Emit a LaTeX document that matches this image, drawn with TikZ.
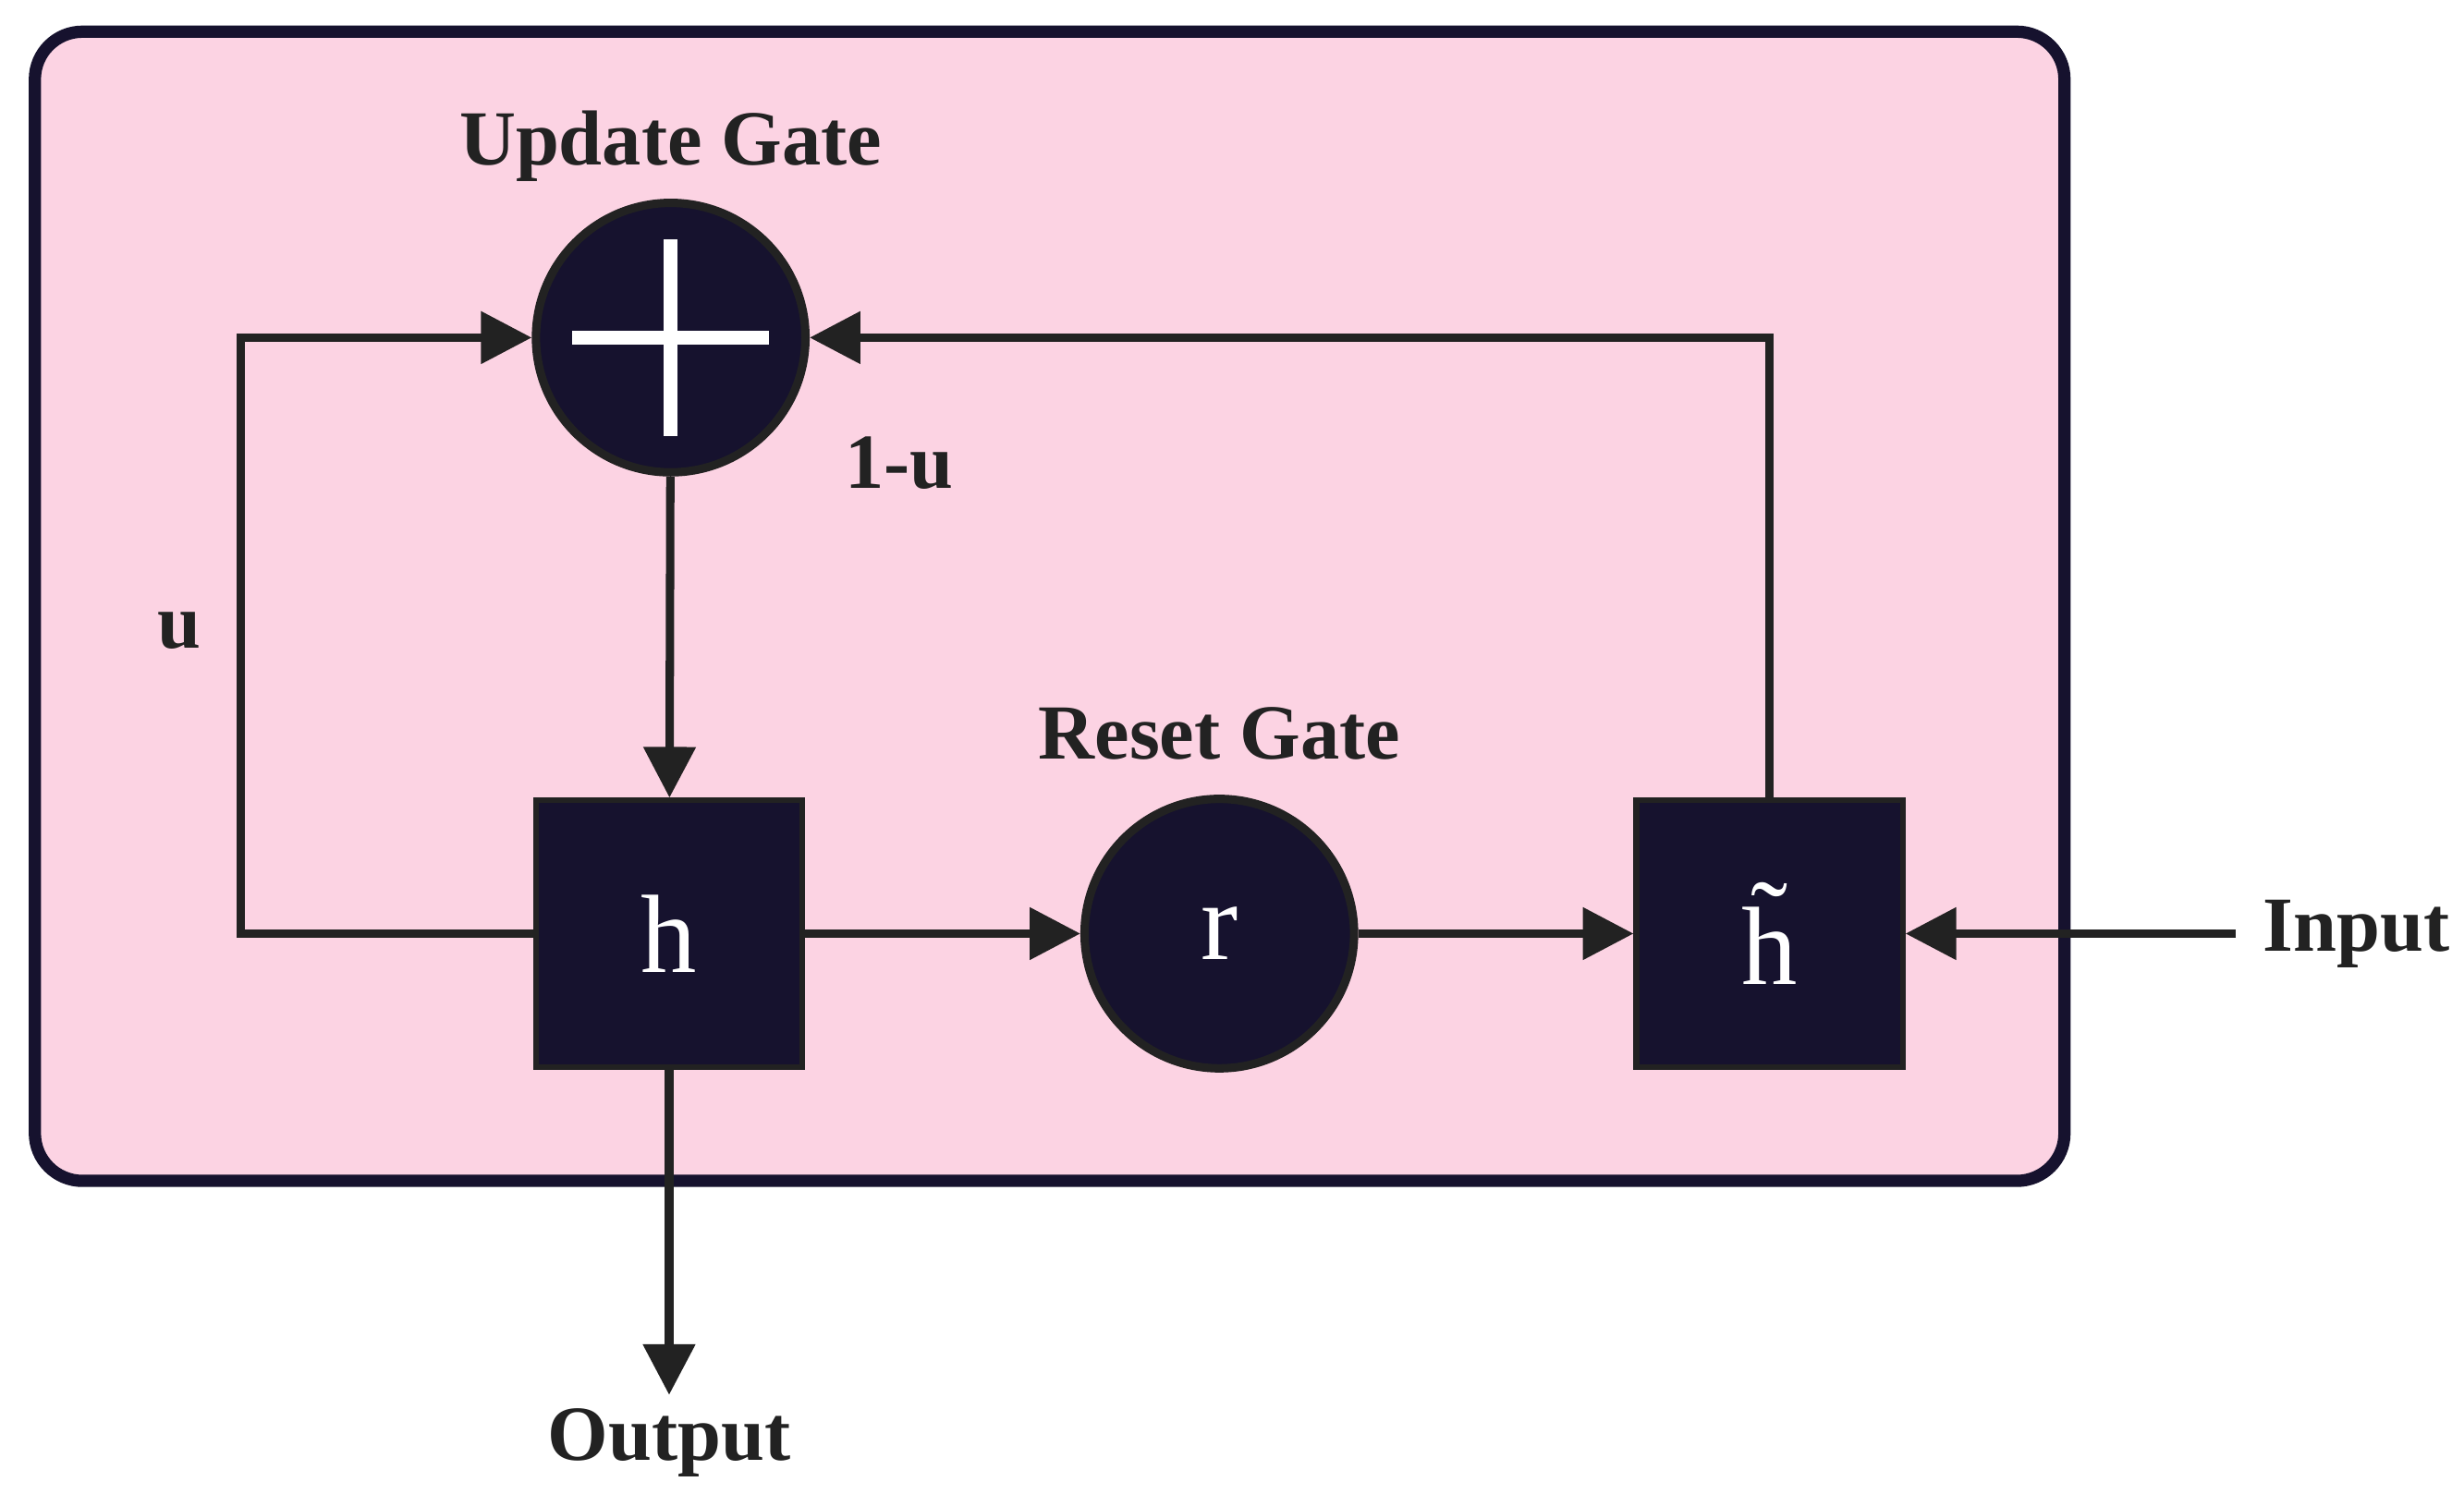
\documentclass[tikz,border=0pt]{standalone}
\usepackage{fontspec}
\setmainfont{Liberation Serif}
\usetikzlibrary{arrows.meta}
\definecolor{bgpink}{HTML}{FCD3E3}
\definecolor{navy}{HTML}{16122E}
\definecolor{ink}{HTML}{222222}
\begin{document}
\begin{tikzpicture}[
  conn/.style={draw=ink,line width=1.5pt,-{Triangle[length=0.32cm,width=0.32cm]}},
  gate/.style={circle,fill=navy,draw=ink,line width=1.5pt,minimum size=1.7cm,inner sep=0pt,text=white,font=\fontsize{20}{20}\selectfont},
  cell/.style={rectangle,fill=navy,draw=ink,line width=1pt,minimum size=1.68cm,inner sep=0pt,text=white,font=\fontsize{20}{20}\selectfont},
  lbl/.style={font=\fontsize{14}{14}\selectfont\bfseries,text=ink}
]
\useasboundingbox (0,0) rectangle (15.54,-9.42);
\fill[white] (0,0) rectangle (15.54,-9.42);
\draw[fill=bgpink,draw=navy,line width=2.2pt,rounded corners=0.3cm] (0.22,-0.2) rectangle (13.02,-7.45);

\node[gate] (ug) at (4.23,-2.13) {};
\draw[white,line width=2.5pt] (ug.center) ++(-0.62,0) -- ++(1.24,0);
\draw[white,line width=2.5pt] (ug.center) ++(0,-0.62) -- ++(0,1.24);
\node[lbl] (ugl) at (4.23,-0.92) {Update Gate};

\node[cell] (h) at (4.22,-5.89) {h};
\node[gate] (r) at (7.69,-5.89) {r};
\node[lbl] (rl) at (7.69,-4.63) {Reset Gate};
\node[cell] (ht) at (11.16,-5.89) {\~{h}};

\node[lbl,anchor=west] (in) at (14.15,-5.89) {Input};
\coordinate (ins) at (14.1,-5.89);
\node[lbl] (out) at (4.22,-9.1) {Output};
\coordinate (oute) at (4.22,-8.8);

\node[lbl] (u) at (1.13,-3.98) {u};
\node[lbl] (omu) at (5.67,-2.92) {1-u};

\draw[conn] (ug) -- (h);
\draw[conn] (h) -- (r);
\draw[conn] (r) -- (ht);
\draw[conn] (ins) -- (ht);
\draw[conn] (h) -- (oute);
\draw[conn] (h.west) -- (1.52,-5.89) -- (1.52,-2.13) -- (ug.west);
\draw[conn] (ht.north) -- (11.16,-2.13) -- (ug.east);
\end{tikzpicture}
\end{document}
